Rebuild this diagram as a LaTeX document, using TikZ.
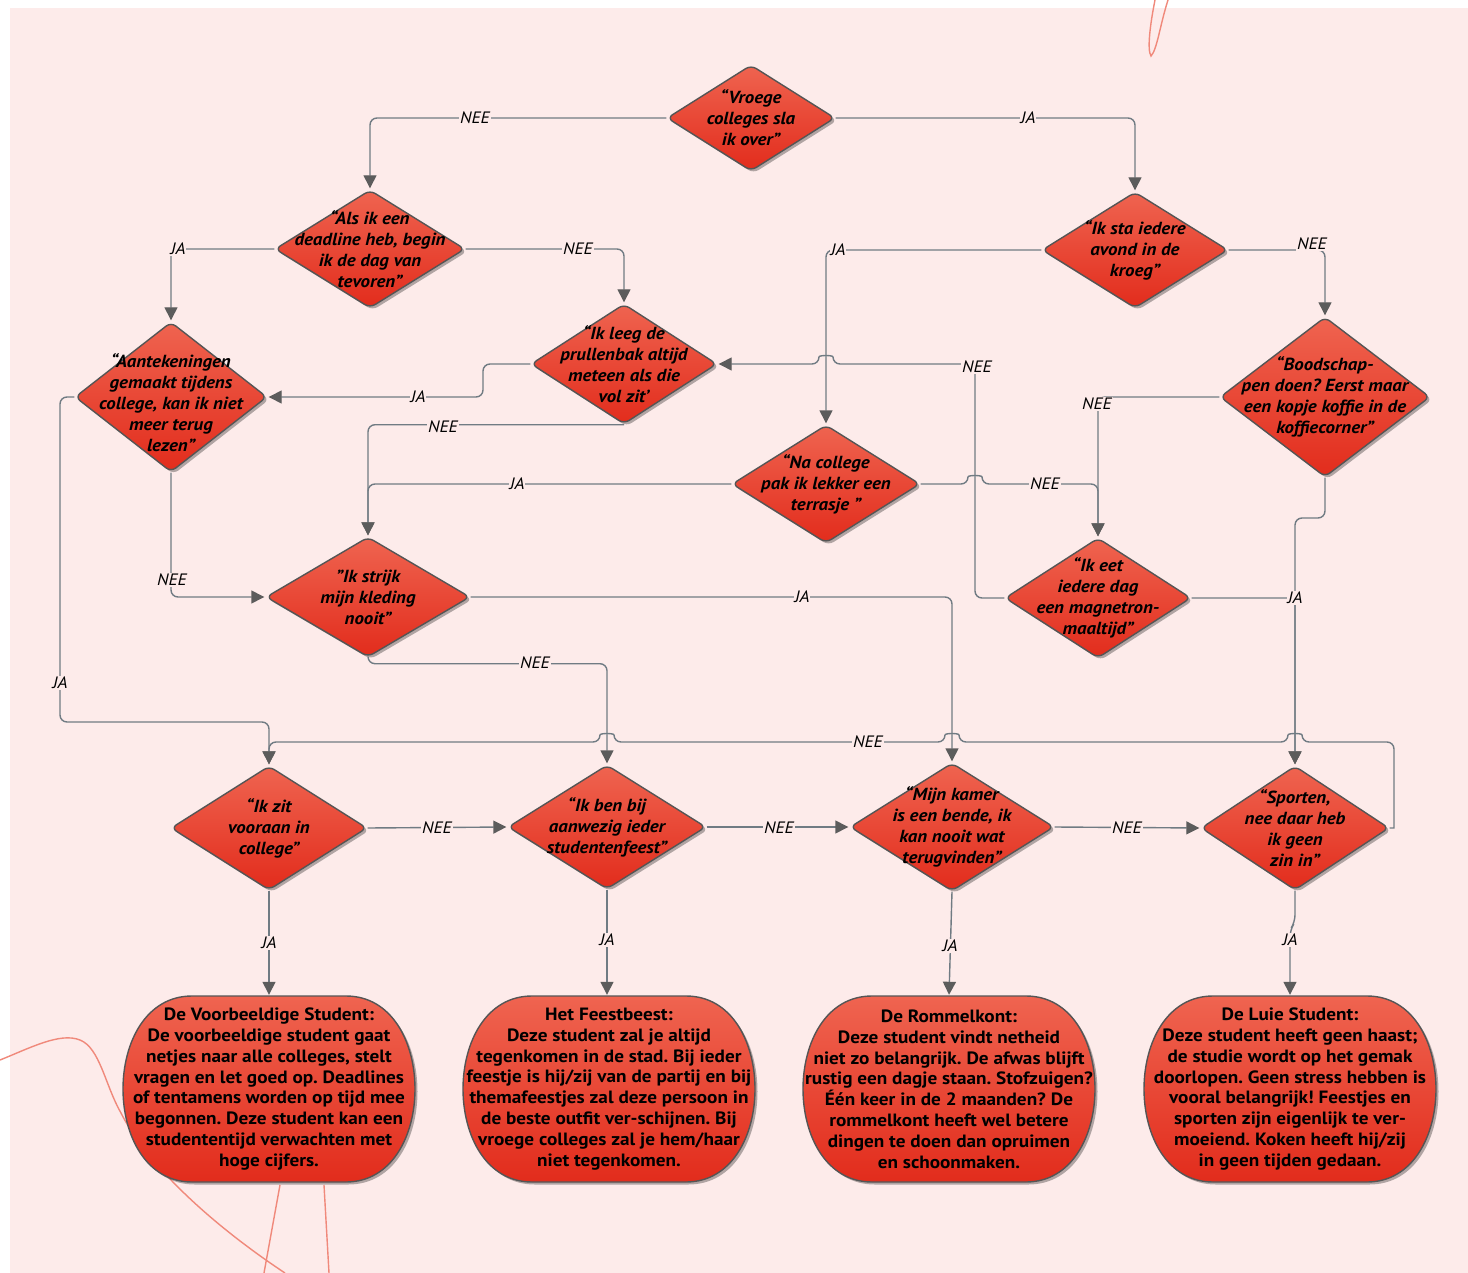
\documentclass[tikz,border=0pt]{standalone}
\usepackage{fontspec}
\setmainfont{PT Sans}[FakeStretch=1.08]
\frenchspacing
\usetikzlibrary{shapes.geometric,arrows.meta,shadows}
\definecolor{bg}{HTML}{FDEBEA}
\definecolor{diaT}{HTML}{EF6450}
\definecolor{diaB}{HTML}{E22C1C}
\definecolor{diaE}{HTML}{555555}
\definecolor{lineC}{HTML}{707B83}
\definecolor{arrC}{HTML}{5C5C5C}
\definecolor{deco}{HTML}{F0897B}
\newcommand\barrelshape[2]{%
  \path[barrel] (#1-77,#2-93) -- (#1+77,#2-93)
    .. controls (#1+169,#2-93) and (#1+169,#2+93) .. (#1+77,#2+93)
    -- (#1-77,#2+93)
    .. controls (#1-169,#2+93) and (#1-169,#2-93) .. (#1-77,#2-93) -- cycle;}
\tikzset{
  dia/.style 2 args={diamond, minimum width=#1pt, minimum height=#2pt, inner sep=0pt,
    rounded corners=6pt, draw=diaE, line width=1.4pt, top color=diaT, bottom color=diaB,
    drop shadow={shadow xshift=2.5pt, shadow yshift=-2.5pt, fill=black, opacity=0.3}},
  dtext/.style={font=\frenchspacing\bfseries\itshape\fontsize{17.5}{21}\selectfont, align=center, inner sep=0pt, text=black},
  barrel/.style={draw=diaE, line width=1.4pt, top color=diaT, bottom color=diaB,
    drop shadow={shadow xshift=2.5pt, shadow yshift=-2.5pt, fill=black, opacity=0.3}},
  btext/.style={font=\frenchspacing\bfseries\fontsize{17.8}{20.8}\selectfont, align=center, inner sep=0pt,
    minimum width=292pt, minimum height=186pt, text=black},
  conn/.style={draw=lineC, line width=1.4pt, rounded corners=7pt},
  arr/.style={-{Triangle[length=13pt,width=13pt,color=arrC]}, shorten >=1pt},
  lab/.style={fill=bg, inner sep=1pt, font=\itshape\fontsize{16.5}{16}\selectfont, text=black},
}
\begin{document}
\begin{tikzpicture}[x=1pt,y=-1pt]
\useasboundingbox (0,0) rectangle (1468,1273);
\fill[white] (0,0) rectangle (1468,1273);
\fill[bg] (10,8) rectangle (1468,1273);
% decorative strokes
\draw[deco, line width=1.4pt] (1168,0) .. controls (1160,25) and (1157,50) .. (1151,56)
  .. controls (1147,50) and (1150,25) .. (1155,0);
\draw[deco, line width=1.4pt] (0,1060) .. controls (30,1048) and (60,1032) .. (80,1040)
  .. controls (100,1048) and (105,1085) .. (121,1113)
  .. controls (150,1170) and (220,1230) .. (285,1273);
\draw[deco, line width=1.4pt] (280,1185) -- (264,1273);
\draw[deco, line width=1.4pt] (324,1185) -- (329,1273);

% diamonds
\node[dia={168}{106}] (D1) at (751,118) {};
\node[dia={190}{118}] (D2) at (370,249) {};
\node[dia={186}{116}] (D3) at (1135,250) {};
\node[dia={192}{150}] (D4) at (171,397) {};
\node[dia={186}{120}] (D5) at (624,364) {};
\node[dia={210}{160}] (D6) at (1325,397) {};
\node[dia={188}{118}] (D7) at (826,484) {};
\node[dia={186}{120}] (D8) at (1098,598) {};
\node[dia={204}{120}] (D9) at (368,597) {};
\node[dia={196}{124}] (D10) at (269,828) {};
\node[dia={198}{124}] (D11) at (607,827) {};
\node[dia={204}{128}] (D12) at (952,827) {};
\node[dia={188}{124}] (D13) at (1295,828) {};

\node[dtext] (T1) at (D1) {“Vroege\\colleges sla\\ik over”};
\node[dtext] (T2) at (D2) {“Als ik een\\deadline heb, begin\\ik de dag van\\tevoren”};
\node[dtext] (T3) at (D3) {“Ik sta iedere\\avond in de\\kroeg”};
\node[dtext] (T4) at ([yshift=-6pt]D4.center) {“Aantekeningen\\gemaakt tijdens\\college, kan ik niet\\meer terug\\lezen”};
\node[dtext] (T5) at (D5) {“Ik leeg de\\prullenbak altijd\\meteen als die\\vol zit’};
\node[dtext] (T6) at (D6) {“Boodschap-\\pen doen? Eerst maar\\een kopje koffie in de\\koffiecorner”};
\node[dtext] (T7) at (D7) {“Na college\\pak ik lekker een\\terrasje ”};
\node[dtext] (T8) at (D8) {“Ik eet\\iedere dag\\een magnetron-\\maaltijd”};
\node[dtext] (T9) at (D9) {"Ik strijk\\mijn kleding\\nooit”};
\node[dtext] (T10) at (D10) {“Ik zit\\vooraan in\\college”};
\node[dtext] (T11) at (D11) {“Ik ben bij\\aanwezig ieder\\studentenfeest”};
\node[dtext] (T12) at (D12) {“Mijn kamer\\is een bende, ik\\kan nooit wat\\terugvinden”};
\node[dtext] (T13) at (D13) {“Sporten,\\nee daar heb\\ik geen\\zin in”};

% result boxes
\barrelshape{269}{1089}
\barrelshape{609}{1089}
\barrelshape{949}{1089}
\barrelshape{1290}{1089}
\node[btext] (B1) at (269,1089) {De Voorbeeldige Student:\\De voorbeeldige student gaat\\netjes naar alle colleges, stelt\\vragen en let goed op. Deadlines\\of tentamens worden op tijd mee\\begonnen. Deze student kan een\\studententijd verwachten met\\hoge cijfers.};
\node[btext] (B2) at (609,1089) {Het Feestbeest:\\Deze student zal je altijd\\tegenkomen in de stad. Bij ieder\\feestje is hij/zij van de partij en bij\\themafeestjes zal deze persoon in\\de beste outfit ver-schijnen. Bij\\vroege colleges zal je hem/haar\\niet tegenkomen.};
\node[btext] (B3) at (949,1089) {De Rommelkont:\\Deze student vindt netheid\\niet zo belangrijk. De afwas blijft\\rustig een dagje staan. Stofzuigen?\\Één keer in de 2 maanden? De\\rommelkont heeft wel betere\\dingen te doen dan opruimen\\en schoonmaken.};
\node[btext] (B4) at (1290,1089) {De Luie Student:\\Deze student heeft geen haast;\\de studie wordt op het gemak\\doorlopen. Geen stress hebben is\\vooral belangrijk! Feestjes en\\sporten zijn eigenlijk te ver-\\moeiend. Koken heeft hij/zij\\in geen tijden gedaan.};

% connectors
\draw[conn,arr] (D1.west) -| (D2.north);
\draw[conn,arr] (D1.east) -| (D3.north);
\draw[conn,arr] (D2.west) -| (D4.north);
\draw[conn,arr] (D2.east) -| (D5.north);
\draw[conn,arr] (D3.west) -| (D7.north);
\draw[conn,arr] (D3.east) -| (D6.north);
\draw[conn,arr] (D5.west) -- (483,364) -- (483,397) -- (D4.east);
\draw[conn,arr] (D5.south) -| (D9.north);
\draw[conn,arr] (D7.west) -| (D9.north);
\draw[conn,arr] (D6.west) -| (D8.north);
\draw[conn,arr] (D7.east) -- (968,484) .. controls (968,475) and (982,475) .. (982,484) -| (D8.north);
\draw[conn,arr] (D8.west) -| (975,364) -- (833,364) .. controls (833,355) and (819,355) .. (819,364) -- (D5.east);
\draw[conn,arr] (D8.east) -| (D13.north);
\draw[conn,arr] (D6.south) -- (1325,518) -- (1295,518) -- (D13.north);
\draw[conn,arr] (D9.east) -| (D12.north);
\draw[conn,arr] (D9.south) -- ++(0,6) -| (D11.north);
\draw[conn,arr] (D4.west) -- (60,397) -- (60,722) -| (D10.north);
\draw[conn,arr] (D4.south) |- (D9.west);
\draw[conn,arr,sharp corners] (D13.east) -- (1394,828) [rounded corners=7pt] -- (1394,742)
  -- (1302,742) .. controls (1302,733) and (1288,733) .. (1288,742)
  -- (959,742) .. controls (959,733) and (945,733) .. (945,742)
  -- (614,742) .. controls (614,733) and (600,733) .. (600,742) -| (D10.north);
\draw[conn,arr] (D10.east) -- (D11.west);
\draw[conn,arr] (D11.east) -- (D12.west);
\draw[conn,arr] (D12.east) -- (D13.west);
\draw[conn,arr] (D10.south) -- (D10.south |- B1.north);
\draw[conn,arr] (D11.south) -- (D11.south |- B2.north);
\draw[conn,arr] (D12.south) -- (B3.north);
\draw[conn,arr] (D13.south) -- (1295,922) -- (1290,930) -- (B4.north);

% connector labels
\node[lab] (L1) at (475,118) {NEE};
\node[lab] (L2) at (1028,118) {JA};
\node[lab] (L3) at (178,249) {JA};
\node[lab] (L4) at (578,249) {NEE};
\node[lab] (L5) at (838,250) {JA};
\node[lab] (L6) at (1312,244) {NEE};
\node[lab] (L7) at (418,397) {JA};
\node[lab] (L8) at (443,427) {NEE};
\node[lab] (L9) at (977,367) {NEE};
\node[lab] (L10) at (517,484) {JA};
\node[lab] (L11) at (1097,404) {NEE};
\node[lab] (L12) at (1045,484) {NEE};
\node[lab] (L13) at (802,597) {JA};
\node[lab] (L14) at (1295,598) {JA};
\node[lab] (L15) at (172,580) {NEE};
\node[lab] (L16) at (535,663) {NEE};
\node[lab] (L17) at (60,683) {JA};
\node[lab] (L18) at (868,742) {NEE};
\node[lab] (L19) at (437,828) {NEE};
\node[lab] (L20) at (779,828) {NEE};
\node[lab] (L21) at (1127,828) {NEE};
\node[lab] (L22) at (269,943) {JA};
\node[lab] (L23) at (607,940) {JA};
\node[lab] (L24) at (950,946) {JA};
\node[lab] (L25) at (1290,940) {JA};
\end{tikzpicture}
\end{document}
